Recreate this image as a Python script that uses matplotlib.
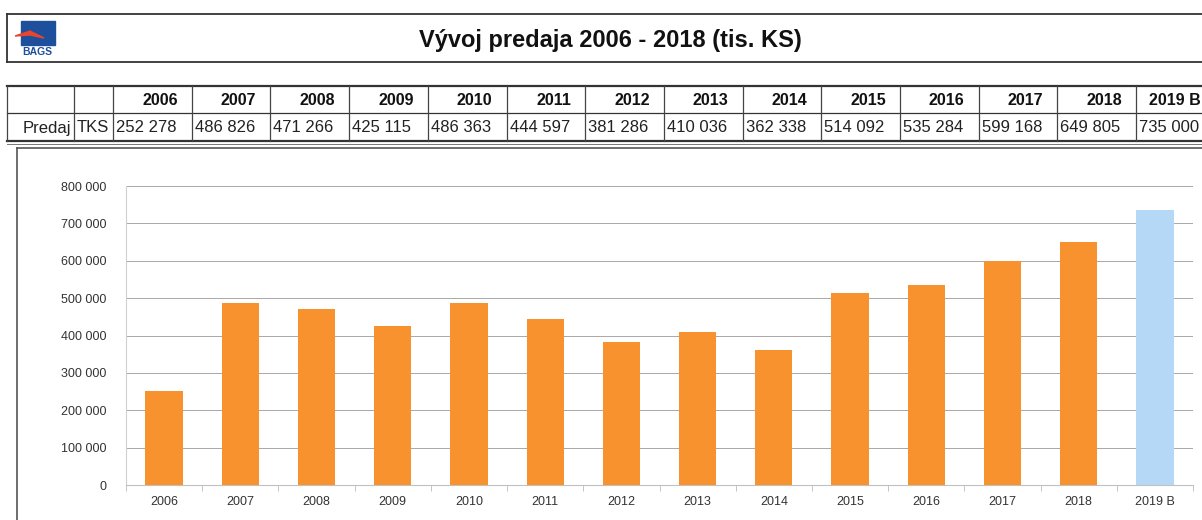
"""Vyvoj predaja 2006 - 2018: table + bar chart, Excel-report style."""

import matplotlib

matplotlib.use("Agg")
import matplotlib.pyplot as plt  # noqa: E402
from matplotlib.patches import Rectangle, Polygon  # noqa: E402
from matplotlib.ticker import FuncFormatter, FixedLocator  # noqa: E402

plt.rcParams["font.family"] = ["Liberation Sans", "DejaVu Sans"]

TITLE = "Vývoj predaja 2006 - 2018 (tis. KS)"
YEARS = ["2006", "2007", "2008", "2009", "2010", "2011", "2012",
         "2013", "2014", "2015", "2016", "2017", "2018", "2019 B"]
SALES = [252278, 486826, 471266, 425115, 486363, 444597, 381286,
         410036, 362338, 514092, 535284, 599168, 649805, 735000]
ROW_LABEL = "Predaj"
UNIT = "TKS"

ORANGE = "#F7922E"
BLUE = "#B5D8F6"
W, H = 1202, 520


def fmt(v):
    return f"{v:,.0f}".replace(",", " ")


fig = plt.figure(figsize=(W / 100, H / 100), dpi=100)

# overlay in pixel coordinates for the report frame, title and table
ov = fig.add_axes([0, 0, 1, 1])
ov.set_xlim(0, W)
ov.set_ylim(H, 0)
ov.axis("off")

# title box
ov.plot([7, W], [14, 14], color="#333333", lw=1.3)
ov.plot([7, W], [62, 62], color="#333333", lw=1.3)
ov.plot([7, 7], [14, 62], color="#333333", lw=1.3)
ov.text(610, 40, TITLE, ha="center", va="center", fontsize=17, fontweight="bold", color="#111111")

# simple logo
ov.add_patch(Rectangle((21, 21), 34, 24, color="#1d4f9c", zorder=2))
ov.add_patch(Polygon([[15, 36], [30, 31], [44, 38], [30, 35]], closed=True, color="#e8452c", zorder=3))
ov.text(24, 41, "ECO", fontsize=3.5, color="#1d4f9c", ha="left", va="center", zorder=4)
ov.text(37, 52, "BAGS", fontsize=7.5, fontweight="bold", color="#1d4f9c", ha="center", va="center")

# table
col_edges = [7, 74, 113] + [113 + 78.7 * (i + 1) for i in range(len(YEARS))]
top, mid, bot = 86, 113, 141
for y, lw in [(top, 1.6), (mid, 0.9), (bot, 1.6)]:
    ov.plot([7, W], [y, y], color="#333333", lw=lw)
ov.plot([7, W], [bot + 3, bot + 3], color="#777777", lw=0.7)
for x in col_edges:
    if x < W:
        ov.plot([x, x], [top, bot], color="#444444", lw=0.9)
ov.text(col_edges[1] - 3, (mid + bot) / 2 + 1, ROW_LABEL, ha="right", va="center", fontsize=12, color="#222222")
ov.text(col_edges[1] + 3, (mid + bot) / 2 + 1, UNIT, ha="left", va="center", fontsize=12, color="#222222")
for i, (yr, val) in enumerate(zip(YEARS, SALES)):
    x0 = col_edges[2 + i]
    ov.text(x0 + 78.7 - 14, (top + mid) / 2 + 1, yr, ha="right", va="center",
            fontsize=11.5, fontweight="bold", color="#111111")
    ov.text(x0 + 3, (mid + bot) / 2 + 1, fmt(val), ha="left", va="center", fontsize=12, color="#222222")

# chart frame
ov.plot([17, W], [148, 148], color="#555555", lw=1.2)
ov.plot([17, 17], [148, H], color="#555555", lw=1.2)

# bar chart
ax = fig.add_axes([126 / W, 1 - 485 / H, (1193 - 126) / W, (485 - 186) / H])
xs = list(range(len(YEARS)))
colors = [ORANGE] * (len(YEARS) - 1) + [BLUE]
ax.bar(xs, SALES, width=0.49, color=colors, zorder=3)
ax.set_xlim(-0.5, len(YEARS) - 0.5)
ax.set_ylim(0, 800000)
ax.set_yticks(range(0, 800001, 100000))
ax.yaxis.set_major_formatter(FuncFormatter(lambda v, _: fmt(v)))
ax.set_xticks(xs)
ax.set_xticklabels(YEARS)
ax.xaxis.set_minor_locator(FixedLocator([i + 0.5 for i in range(-1, len(YEARS))]))
ax.tick_params(axis="x", which="major", length=0, labelsize=9, colors="#333333", pad=8)
ax.tick_params(axis="x", which="minor", length=4, color="#bbbbbb")
ax.tick_params(axis="y", length=0, labelsize=9, colors="#333333", pad=14)
ax.grid(axis="y", color="#a8a8a8", lw=0.7, zorder=0)
for s in ["top", "right"]:
    ax.spines[s].set_visible(False)
ax.spines["left"].set_color("#d0d0d0")
ax.spines["bottom"].set_color("#c0c0c0")

fig.savefig("out.png", dpi=100)
